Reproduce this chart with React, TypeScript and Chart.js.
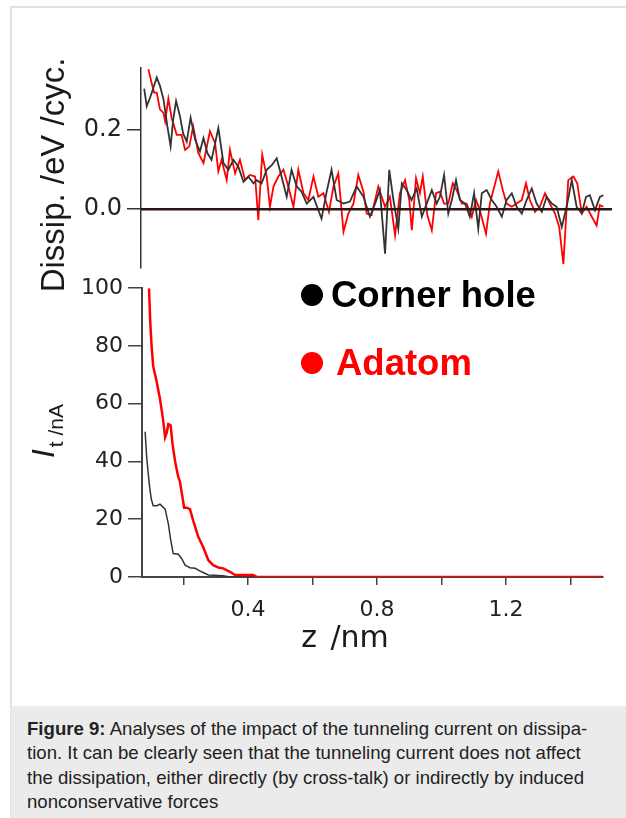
import React, { useEffect, useRef } from "react";
import { Chart, registerables } from "chart.js";

Chart.register(...registerables);

// ---- Data (z in nm) ----
// Dissipation (eV / cycle) vs z
const dissCornerHole: [number, number][] = [
  [0.078, 0.303], [0.086, 0.259], [0.098, 0.284], [0.117, 0.331], [0.127, 0.31], [0.138, 0.276],
  [0.150, 0.208], [0.160, 0.158], [0.168, 0.225], [0.177, 0.272], [0.189, 0.234], [0.199, 0.19],
  [0.210, 0.17], [0.222, 0.23], [0.236, 0.175], [0.251, 0.145], [0.262, 0.179], [0.274, 0.141],
  [0.287, 0.124], [0.308, 0.204], [0.324, 0.116], [0.339, 0.099], [0.355, 0.124], [0.370, 0.107],
  [0.386, 0.069], [0.401, 0.082], [0.417, 0.065], [0.427, 0.073], [0.442, 0.065], [0.458, 0.099],
  [0.473, 0.11], [0.489, 0.128], [0.504, 0.082], [0.520, 0.031], [0.535, 0.099], [0.551, 0.057],
  [0.566, 0.044], [0.582, 0.014], [0.603, 0.031], [0.628, -0.024], [0.644, 0.044], [0.659, 0.099],
  [0.675, 0.023], [0.696, 0.014], [0.716, 0.019], [0.737, 0.057], [0.758, 0.031], [0.778, -0.019],
  [0.794, 0.014], [0.809, 0.048], [0.825, -0.112], [0.838, 0.099], [0.851, 0.023], [0.866, -0.049],
  [0.877, 0.065], [0.892, 0.048], [0.907, 0.023], [0.923, 0.052], [0.939, -0.019], [0.954, 0.014],
  [0.970, 0.048], [0.985, 0.014], [0.995, 0.031], [1.008, 0.086], [1.021, -0.011], [1.032, 0.023],
  [1.045, 0.073], [1.057, 0.023], [1.073, 0.014], [1.088, -0.019], [1.101, 0.04], [1.114, -0.049],
  [1.125, 0.04], [1.140, 0.048], [1.156, 0.023], [1.171, 0.006], [1.187, -0.019], [1.202, 0.023],
  [1.218, 0.04], [1.233, 0.006], [1.249, -0.011], [1.264, 0.023], [1.280, 0.052], [1.295, 0.014],
  [1.311, -0.007], [1.326, 0.031], [1.342, 0.014], [1.357, 0.006], [1.373, -0.045], [1.388, 0.006],
  [1.404, 0.073], [1.419, 0.006], [1.435, -0.011], [1.448, 0.031], [1.460, 0.035], [1.476, -0.003],
  [1.491, 0.031], [1.502, 0.035],
];

const dissAdatom: [number, number][] = [
  [0.091, 0.352], [0.101, 0.318], [0.109, 0.293], [0.117, 0.293], [0.127, 0.251], [0.138, 0.242],
  [0.143, 0.221], [0.153, 0.278], [0.163, 0.23], [0.179, 0.187], [0.194, 0.187], [0.205, 0.149],
  [0.218, 0.158], [0.230, 0.208], [0.246, 0.141], [0.262, 0.116], [0.282, 0.196], [0.298, 0.166],
  [0.308, 0.095], [0.318, 0.124], [0.334, 0.073], [0.344, 0.149], [0.360, 0.09], [0.375, 0.124],
  [0.391, 0.073], [0.406, 0.086], [0.422, 0.082], [0.432, -0.028], [0.444, 0.137], [0.458, 0.082],
  [0.468, 0.006], [0.479, 0.057], [0.494, 0.082], [0.510, 0.099], [0.525, 0.057], [0.541, 0.006],
  [0.556, 0.099], [0.572, 0.04], [0.587, 0.023], [0.603, 0.082], [0.618, 0.031], [0.634, 0.04],
  [0.651, -0.007], [0.665, 0.057], [0.680, 0.09], [0.696, -0.057], [0.711, -0.011], [0.727, 0.014],
  [0.742, 0.086], [0.758, 0.044], [0.768, -0.011], [0.783, -0.015], [0.804, 0.057], [0.825, 0.006],
  [0.840, 0.031], [0.856, -0.066], [0.871, 0.04], [0.887, 0.073], [0.900, 0.023], [0.908, -0.053],
  [0.921, 0.078], [0.933, 0.04], [0.942, 0.082], [0.956, -0.015], [0.970, -0.053], [0.983, 0.04],
  [0.995, 0.044], [1.008, 0.014], [1.021, 0.014], [1.035, 0.065], [1.047, 0.048], [1.063, 0.014],
  [1.078, 0.014], [1.094, -0.019], [1.107, 0.023], [1.119, -0.003], [1.138, -0.062], [1.150, 0.014],
  [1.176, 0.095], [1.190, 0.048], [1.202, 0.014], [1.218, 0.006], [1.233, 0.014], [1.249, 0.023],
  [1.262, 0.065], [1.274, 0.023], [1.290, -0.007], [1.305, 0.006], [1.321, 0.04], [1.336, 0.014],
  [1.352, -0.011], [1.365, -0.045], [1.378, -0.138], [1.393, 0.073], [1.409, 0.082], [1.421, 0.065],
  [1.435, -0.011], [1.450, 0.006], [1.466, -0.019], [1.481, -0.041], [1.491, 0.01], [1.502, 0.006],
];

// Tunneling current (nA) vs z
const currentCornerHole: [number, number][] = [
  [0.081, 50.3], [0.086, 41.2], [0.094, 32], [0.100, 27], [0.106, 24.7], [0.117, 24.7],
  [0.127, 25.2], [0.143, 23.5], [0.153, 18.4], [0.160, 13], [0.168, 8.1], [0.184, 7.9],
  [0.194, 6.4], [0.205, 4.1], [0.220, 3.2], [0.236, 3], [0.256, 1.8], [0.277, 0.7],
  [0.323, 0.4], [0.344, 0], [1.5, 0],
];

const currentAdatom: [number, number][] = [
  [0.093, 100], [0.097, 88], [0.101, 80], [0.106, 73], [0.116, 68], [0.127, 61.7],
  [0.136, 55], [0.143, 48.4], [0.148, 50], [0.153, 52.9], [0.160, 52.5], [0.166, 46],
  [0.174, 40], [0.183, 35], [0.189, 33], [0.202, 24], [0.210, 24], [0.220, 23.5],
  [0.230, 19.5], [0.246, 13.8], [0.261, 10.4], [0.277, 5.8], [0.292, 4.1], [0.308, 3.3],
  [0.323, 3], [0.344, 1.8], [0.360, 0.7], [0.416, 0.7], [0.428, 0], [1.5, 0],
];

// Axis definitions
const zRangeTop: [number, number] = [0.0682, 1.5287];
const zRangeBottom: [number, number] = [0.0713, 1.5008];
const dissRange: [number, number] = [-0.148, 0.355];
const currentRange: [number, number] = [0, 100];
const dissTicks = [0, 0.2];
const currentTicks = [0, 20, 40, 60, 80, 100];
const zTicks = [0.2, 0.4, 0.6, 0.8, 1.0, 1.2, 1.4];
const zLabelledTicks = [0.4, 0.8, 1.2];
const zeroLine: [number, number][] = [[zRangeTop[0], 0], [zRangeTop[1], 0]];

const legendItems = [
  { label: "Corner hole", color: "#000000" },
  { label: "Adatom", color: "#ff0000" },
];

const captionLines = [
  " Analyses of the impact of the tunneling current on dissipa-",
  "tion. It can be clearly seen that the tunneling current does not affect",
  "the dissipation, either directly (by cross-talk) or indirectly by induced",
  "nonconservative forces",
];

const toXY = (arr: [number, number][]) => arr.map(([x, y]) => ({ x, y }));
const TICK_FONT = "'DejaVu Sans', Verdana, sans-serif";

export default function App() {
  const topRef = useRef<HTMLCanvasElement>(null);
  const botRef = useRef<HTMLCanvasElement>(null);

  useEffect(() => {
    const top = new Chart(topRef.current!, {
      type: "line",
      data: {
        datasets: [
          { data: toXY(zeroLine), borderColor: "#2a1616", borderWidth: 2.5, order: 0 },
          { data: toXY(dissCornerHole), borderColor: "#333333", borderWidth: 1.8, order: 1 },
          { data: toXY(dissAdatom), borderColor: "#ff0000", borderWidth: 1.8, order: 2 },
        ],
      },
      options: {
        animation: false,
        responsive: false,
        maintainAspectRatio: false,
        layout: { padding: { left: 0, right: 14, top: 68, bottom: 22 } },
        elements: { point: { radius: 0 }, line: { tension: 0 } },
        plugins: { legend: { display: false }, tooltip: { enabled: false } },
        scales: {
          x: { type: "linear", min: zRangeTop[0], max: zRangeTop[1], display: false },
          y: {
            type: "linear",
            min: dissRange[0],
            max: dissRange[1],
            afterFit: (s: any) => { s.width = 141; },
            afterBuildTicks: (s: any) => { s.ticks = dissTicks.map((v) => ({ value: v })); },
            grid: { drawOnChartArea: false, tickLength: 14, color: "#333", lineWidth: 1.5 },
            border: { color: "#333", width: 1.5 },
            ticks: {
              padding: 5,
              color: "#222",
              font: { family: TICK_FONT, size: 24 },
              callback: (v: any) => Number(v).toFixed(1),
            },
          },
        },
      },
    } as any);

    const bot = new Chart(botRef.current!, {
      type: "line",
      data: {
        datasets: [
          { data: toXY(currentAdatom), borderColor: "#ff0000", borderWidth: 2.5, order: 0 },
          { data: toXY(currentCornerHole), borderColor: "#333333", borderWidth: 1.5, order: 1 },
        ],
      },
      options: {
        animation: false,
        responsive: false,
        maintainAspectRatio: false,
        layout: { padding: { left: 0, right: 23, top: 15, bottom: 33 } },
        elements: { point: { radius: 0 }, line: { tension: 0 } },
        plugins: { legend: { display: false }, tooltip: { enabled: false } },
        scales: {
          x: {
            type: "linear",
            min: zRangeBottom[0],
            max: zRangeBottom[1],
            afterFit: (s: any) => { s.height = 60; },
            afterBuildTicks: (s: any) => { s.ticks = zTicks.map((v) => ({ value: v })); },
            grid: { drawOnChartArea: false, tickLength: 8, color: "#444", lineWidth: 1.5 },
            border: { color: "#444", width: 2 },
            ticks: {
              autoSkip: false,
              maxRotation: 0,
              padding: 12,
              color: "#222",
              font: { family: TICK_FONT, size: 22 },
              callback: (v: any) =>
                zLabelledTicks.some((t) => Math.abs(t - Number(v)) < 1e-6) ? Number(v).toFixed(1) : "",
            },
          },
          y: {
            type: "linear",
            min: currentRange[0],
            max: currentRange[1],
            afterFit: (s: any) => { s.width = 142; },
            afterBuildTicks: (s: any) => { s.ticks = currentTicks.map((v) => ({ value: v })); },
            grid: { drawOnChartArea: false, tickLength: 14, color: "#444", lineWidth: 1.5 },
            border: { color: "#444", width: 2 },
            ticks: {
              padding: 5,
              color: "#222",
              font: { family: TICK_FONT, size: 22 },
            },
          },
        },
      },
    } as any);

    return () => {
      top.destroy();
      bot.destroy();
    };
  }, []);

  const sans = "'Liberation Sans', Arial, Helvetica, sans-serif";

  return (
    <div
      style={{
        position: "fixed",
        left: 0,
        top: 0,
        width: 626,
        height: 818,
        background: "#fff",
        overflow: "hidden",
        fontFamily: sans,
      }}
    >
      {/* frame */}
      <div
        style={{
          position: "absolute",
          left: 10,
          top: 6,
          width: 700,
          height: 900,
          borderTop: "2px solid #e2e2e2",
          borderLeft: "2px solid #e2e2e2",
          boxSizing: "border-box",
        }}
      />
      <canvas
        ref={topRef}
        width={626}
        height={290}
        style={{ position: "absolute", left: 0, top: 0, width: 626, height: 290 }}
      />
      <canvas
        ref={botRef}
        width={626}
        height={400}
        style={{ position: "absolute", left: 0, top: 270, width: 626, height: 400 }}
      />

      {/* y title top */}
      <div
        style={{
          position: "absolute",
          left: 51.6,
          top: 175,
          transform: "translate(-50%, -50%) rotate(-90deg)",
          whiteSpace: "nowrap",
          fontSize: 33,
          lineHeight: 1,
          color: "#1a1a1a",
        }}
      >
        Dissip. /eV /cyc.
      </div>

      {/* y title bottom */}
      <div
        style={{
          position: "absolute",
          left: 46,
          top: 431,
          transform: "translate(-50%, -50%) rotate(-90deg)",
          whiteSpace: "nowrap",
          lineHeight: 1,
          color: "#1a1a1a",
        }}
      >
        <span style={{ fontStyle: "italic", fontSize: 32 }}>I</span>
        <span style={{ fontSize: 21, verticalAlign: -9, marginLeft: 2 }}>t /nA</span>
      </div>

      {/* x title */}
      <div
        style={{
          position: "absolute",
          left: 345,
          top: 622,
          transform: "translateX(-50%)",
          whiteSpace: "nowrap",
          fontFamily: TICK_FONT,
          fontSize: 30,
          wordSpacing: 4,
          lineHeight: 1,
          color: "#1a1a1a",
        }}
      >
        z /nm
      </div>

      {/* legend */}
      {legendItems.map((it, i) => (
        <div
          key={it.label}
          style={{
            position: "absolute",
            left: 301,
            top: i === 0 ? 276 : 344,
            height: 38,
            display: "flex",
            alignItems: "center",
            whiteSpace: "nowrap",
          }}
        >
          <div
            style={{
              width: 22,
              height: 22,
              borderRadius: 11,
              background: it.color,
              marginRight: i === 0 ? 8 : 13,
            }}
          />
          <span style={{ fontSize: 36.5, fontWeight: "bold", color: it.color, lineHeight: 1 }}>{it.label}</span>
        </div>
      ))}

      {/* caption */}
      <div
        style={{
          position: "absolute",
          left: 11,
          top: 706,
          width: 615,
          height: 112,
          background: "#ebebeb",
        }}
      />
      <div
        style={{
          position: "absolute",
          left: 27,
          top: 717,
          fontSize: 18.6,
          lineHeight: "24.3px",
          color: "#222",
          whiteSpace: "nowrap",
        }}
      >
        {captionLines.map((line, i) => (
          <div key={i}>
            {i === 0 && <b>Figure 9:</b>}
            {line}
          </div>
        ))}
      </div>
    </div>
  );
}
